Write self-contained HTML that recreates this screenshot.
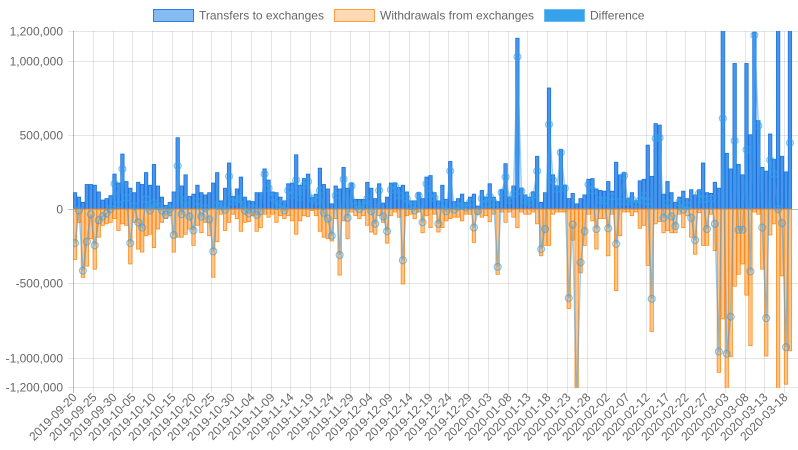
<!DOCTYPE html>
<html><head><meta charset="utf-8"><style>
html,body{margin:0;padding:0;background:#fff;}
svg{display:block;font-family:"Liberation Sans",sans-serif;}
</style></head><body>
<svg id="chart" width="798" height="450" viewBox="0 0 798 450" xmlns="http://www.w3.org/2000/svg">
<g font-size="12" fill="#666">
 <g>
  <rect x="153.5" y="9.5" width="40" height="12" fill="rgba(54,140,235,0.6)" stroke="#2a7fe0" stroke-width="1"/>
  <text x="199" y="19.5">Transfers to exchanges</text></g>
 <g>
  <rect x="334.5" y="9.5" width="40" height="12" fill="rgba(255,159,64,0.4)" stroke="#ffa040" stroke-width="1"/>
  <text x="380" y="19.5">Withdrawals from exchanges</text></g>
 <g>
  <rect x="544.5" y="9.5" width="40" height="12" fill="#36a2eb" stroke="rgba(54,162,235,0.5)" stroke-width="1"/>
  <text x="590" y="19.5">Difference</text></g>
</g>
<g id="grid"></g>
<g id="yaxis" font-size="12" fill="#666" text-anchor="end"></g>
<g id="xaxis" font-size="12" fill="#666" text-anchor="end"></g>
<defs><clipPath id="plotclip"><rect x="73" y="31" width="725" height="357"/></clipPath></defs>
<g id="plot" clip-path="url(#plotclip)"></g>
</svg>
<script>
const startDate = "2019-09-20";
const transfers = [110,80,45,165,165,160,115,60,70,90,235,175,370,185,140,110,180,165,245,160,300,155,80,25,45,115,480,155,230,85,
100,160,110,95,110,175,245,55,140,310,85,135,215,80,55,50,110,110,270,195,115,110,80,55,170,175,365,160,205,235,
80,100,275,165,135,35,155,135,280,140,175,65,65,65,180,140,70,170,40,80,175,175,145,160,115,55,55,110,70,215,
225,110,55,160,65,320,50,70,100,45,80,100,20,125,80,170,80,50,130,305,80,155,1150,140,95,80,115,355,45,110,
815,230,155,400,160,70,105,35,70,95,200,205,135,125,120,185,120,315,230,245,70,110,55,190,200,430,220,575,565,100,
185,110,45,80,120,70,130,95,130,310,110,105,180,140,1350,375,270,980,300,230,980,500,1190,595,280,255,505,335,1400,355,
250,1400];
const withdrawals = [-340,-90,-460,-385,-200,-405,-190,-110,-100,-90,-65,-145,-100,-110,-370,-90,-270,-290,-180,-170,-260,-135,-90,-65,-45,-290,-190,-190,-170,-135,
-245,-110,-160,-90,-180,-460,-220,-35,-145,-90,-35,-65,-150,-90,-85,-45,-150,-125,-35,-55,-35,-90,-45,-65,-45,-80,-170,-80,-45,-50,
-10,-45,-150,-190,-200,-215,-65,-445,-80,-200,-20,-45,-65,-45,-110,-155,-170,-45,-90,-230,-45,-20,-55,-505,-45,-35,-65,-20,-160,-45,
-125,-35,-155,-125,-80,-65,-55,-55,-80,-35,-35,-225,-35,-55,-45,-85,-35,-440,-20,-90,-20,-55,-125,-20,-35,-35,-20,-100,-315,-245,
-245,-35,-20,-20,-20,-670,-210,-1350,-430,-245,-35,-80,-270,-65,-65,-315,-35,-550,-180,-20,-20,-45,-20,-130,-110,-380,-825,-100,-85,-160,
-145,-160,-160,-35,-125,-45,-190,-305,-25,-245,-245,-35,-280,-1100,-740,-1350,-995,-520,-440,-370,-580,-920,-20,-35,-405,-990,-175,-100,-1400,-450,
-1180,-955];
const yTicks = [1200000,1000000,500000,0,-500000,-1000000,-1200000];
const yTickLabels = ["1,200,000","1,000,000","500,000","0","-500,000","-1,000,000","-1,200,000"];

const NS="http://www.w3.org/2000/svg";
const X0=73, DAY=3.95, Y0=209, PPM=148.5/1000000;
function xTick(i){return X0+i*DAY;}
function xCenter(i){return X0+i*DAY+2;}
function y(v){return Y0 - v*PPM;}
function mk(tag, attrs, parent){const e=document.createElementNS(NS,tag);for(const k in attrs)e.setAttribute(k,attrs[k]);parent.appendChild(e);return e;}
const grid=document.getElementById('grid'), yaxis=document.getElementById('yaxis'), xaxis=document.getElementById('xaxis'), plot=document.getElementById('plot');
const n=transfers.length;
// y grid
yTicks.forEach((t,i)=>{
  const yy=Math.round(y(t))+0.5;
  const l=mk('line',{x1:X0-5,x2:798,y1:yy,y2:yy,stroke:t===0?'rgba(0,0,0,0.25)':'rgba(0,0,0,0.1)','stroke-width':1},grid);
  
  
  const tx=mk('text',{x:63,y:yy+4},yaxis);
  tx.textContent=yTickLabels[i];
  
  
});
// x grid + labels
const sd=new Date(startDate+"T00:00:00Z");
for(let i=0;i<n;i+=5){
  const xx=Math.round(xTick(i))+0.5;
  const l=mk('line',{x1:xx,x2:xx,y1:31,y2:393,stroke:i===0?'rgba(0,0,0,0.25)':'rgba(0,0,0,0.1)','stroke-width':1},grid);
  
  
  const d=new Date(sd.getTime()+i*86400000);
  const lbl=d.toISOString().slice(0,10);
  const tx=mk('text',{x:xx+4,y:398,transform:`rotate(-45 ${xx+4} 398)`},xaxis);
  tx.textContent=lbl;
  
  
}
// bars
for(let i=0;i<n;i++){
  const cx=xCenter(i), w=3.4;
  const tv=transfers[i]*1000, wv=withdrawals[i]*1000;
  const b=mk('rect',{x:cx-w/2,y:y(tv),width:w,height:Math.max(0,Y0-y(tv)),fill:'rgba(40,130,230,0.85)',stroke:'#1a73e0','stroke-width':0.8},plot);
  
  
  const o=mk('rect',{x:cx-w/2,y:Y0,width:w,height:Math.max(0,y(wv)-Y0),fill:'rgba(255,159,64,0.6)',stroke:'#ff8c1a','stroke-width':0.8},plot);
  
  
}
// difference line
let pts=[];
for(let i=0;i<n;i++){pts.push(xCenter(i).toFixed(1)+','+y((transfers[i]+withdrawals[i])*1000).toFixed(1));}
const pl=mk('polyline',{points:pts.join(' '),fill:'none',stroke:'rgba(54,162,235,0.5)','stroke-width':1.5},plot);


for(let i=0;i<n;i++){
  const c=mk('circle',{cx:xCenter(i),cy:y((transfers[i]+withdrawals[i])*1000),r:3.5,fill:'rgba(54,162,235,0.15)',stroke:'rgba(54,162,235,0.6)','stroke-width':1.2},plot);
  
  
}
</script>
</body></html>
